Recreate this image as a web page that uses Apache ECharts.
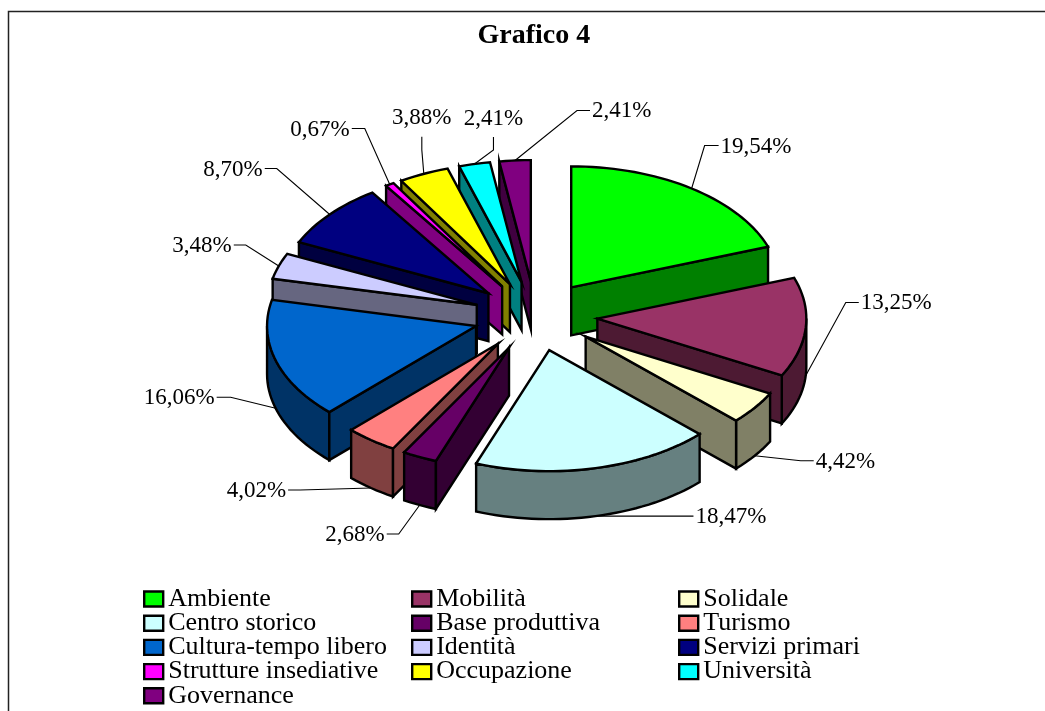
<!DOCTYPE html>
<html>
<head>
<meta charset="utf-8">
<title>Grafico 4</title>
<style>
  html, body { margin: 0; padding: 0; background: #fff; }
  #chart { width: 1045px; height: 711px; }
</style>
<script src="https://cdn.jsdelivr.net/npm/echarts@6/dist/echarts.min.js"></script>
</head>
<body>
<div id="chart"></div>
<script>
const categories = [
  "Ambiente", "Mobilità", "Solidale", "Centro storico", "Base produttiva",
  "Turismo", "Cultura-tempo libero", "Identità", "Servizi primari",
  "Strutture insediative", "Occupazione", "Università", "Governance",
];
const percentages = [19.54, 13.25, 4.42, 18.47, 2.68, 4.02, 16.06, 3.48, 8.7, 0.67, 3.88, 2.41, 2.41];
const topColors = [
  "#00ff00", "#993366", "#ffffcc", "#ccffff", "#660066", "#ff8080", "#0066cc",
  "#ccccff", "#000080", "#ff00ff", "#ffff00", "#00ffff", "#800080",
];
const sideColors = [
  "#008000", "#4d1a33", "#808066", "#668080", "#330033", "#804040", "#003366",
  "#666680", "#000040", "#800080", "#808000", "#008080", "#400040",
];
const legendColumns = [
  ["Ambiente", "Centro storico", "Cultura-tempo libero", "Strutture insediative", "Governance"],
  ["Mobilità", "Base produttiva", "Identità", "Occupazione"],
  ["Solidale", "Turismo", "Servizi primari", "Università"],
];

// leader line per slice, relative to the rim point: elbow dx, dy, then stub dx, dy
const leaders = [
  [13, -43, 14, 0], [40, -73, 13, 0], [46, 5, 13, 0], [86, 0, 12, 0], [-21, 29, -12, 0],
  [-71, 2, -12, 0], [-45, -11, -14, 0], [-33, -21, -12, 0], [-53, -46, -12, 0],
  [-25, -56, -13, 0], [-2, -24, 0, -13], [19, -14, 0, -13], [62, -50, 13, 0],
];

const SERIF = '"Liberation Serif", "Times New Roman", serif';
const PIE = { cx: 535.5, cy: 316, rx: 209, ry: 121, depth: 48, explodeX: 62, explodeY: 35 };
const DEG = Math.PI / 180;

const total = percentages.reduce((sum, v) => sum + v, 0);
const slices = [];
let running = 0;
percentages.forEach((value) => {
  const start = (running / total) * 360;
  running += value;
  slices.push({ start, end: (running / total) * 360, mid: start + ((value / total) * 360) / 2 });
});

function rimPoint(apex, angle) {
  return [apex[0] + PIE.rx * Math.sin(angle * DEG), apex[1] - PIE.ry * Math.cos(angle * DEG)];
}

function arcPoints(apex, from, to) {
  const points = [];
  const steps = Math.max(2, Math.ceil((to - from) / 2));
  for (let i = 0; i <= steps; i++) {
    points.push(rimPoint(apex, from + ((to - from) * i) / steps));
  }
  return points;
}

function down(point) {
  return [point[0], point[1] + PIE.depth];
}

function face(points, fill) {
  return {
    type: "polygon",
    shape: { points },
    style: { fill, stroke: "#000", lineWidth: 2.4, lineJoin: "miter" },
  };
}

function renderSlice(index) {
  const slice = slices[index];
  const apex = [
    PIE.cx + PIE.explodeX * Math.sin(slice.mid * DEG),
    PIE.cy - PIE.explodeY * Math.cos(slice.mid * DEG),
  ];
  const children = [];

  // outer wall, only the front half of the rim can be seen
  const wallFrom = Math.max(slice.start, 90);
  const wallTo = Math.min(slice.end, 270);
  if (wallTo > wallFrom) {
    const rim = arcPoints(apex, wallFrom, wallTo);
    children.push(face(rim.concat(rim.map(down).reverse()), sideColors[index]));
  }

  // cut walls
  if (Math.sin(slice.start * DEG) < 0) {
    const p = rimPoint(apex, slice.start);
    children.push(face([apex, p, down(p), down(apex)], sideColors[index]));
  }
  if (Math.sin(slice.end * DEG) > 0) {
    const p = rimPoint(apex, slice.end);
    children.push(face([apex, p, down(p), down(apex)], sideColors[index]));
  }

  children.push(face([apex].concat(arcPoints(apex, slice.start, slice.end)), topColors[index]));

  // leader line and percentage label
  let from = rimPoint(apex, slice.mid);
  if (Math.cos(slice.mid * DEG) < 0) from = down(from);
  const [ex, ey, sx, sy] = leaders[index];
  const elbow = [from[0] + ex, from[1] + ey];
  const tip = [elbow[0] + sx, elbow[1] + sy];
  children.push({
    type: "polyline",
    shape: { points: [from, elbow, tip] },
    style: { fill: "none", stroke: "#000", lineWidth: 1.1 },
  });
  const isVertical = sx === 0;
  children.push({
    type: "text",
    style: {
      text: percentages[index].toFixed(2).replace(".", ",") + "%",
      x: isVertical ? tip[0] : tip[0] + (sx > 0 ? 2 : -2),
      y: isVertical ? tip[1] - 7 : tip[1] + 1,
      fill: "#000",
      font: `23px ${SERIF}`,
      textAlign: isVertical ? "center" : sx > 0 ? "left" : "right",
      textVerticalAlign: isVertical ? "bottom" : "middle",
    },
  });
  return { type: "group", children };
}

// paint back to front
const paintRank = slices
  .map((slice, index) => ({ index, y: -Math.cos(slice.mid * DEG) }))
  .sort((a, b) => a.y - b.y)
  .map((item) => item.index);

const chart = echarts.init(document.getElementById("chart"), null, { renderer: "canvas" });
chart.setOption({
  animation: false,
  backgroundColor: "#fff",
  title: {
    text: "Grafico 4",
    left: 472.5,
    top: 17,
    textStyle: { fontFamily: SERIF, fontSize: 28, fontWeight: "bold", color: "#000" },
  },
  legend: legendColumns.map((names, i) => ({
    data: names,
    orient: "vertical",
    left: [143, 411, 678][i],
    top: 586,
    itemGap: -1.8,
    itemWidth: 19,
    itemHeight: 15,
    selectedMode: false,
    padding: 0,
    icon: "rect",
    itemStyle: { borderColor: "#000", borderWidth: 2.4 },
    textStyle: { fontFamily: SERIF, fontSize: 26, color: "#000" },
  })),
  graphic: [
    {
      type: "polyline",
      shape: { points: [[8.5, 711], [8.5, 11.5], [1045, 11.5]] },
      style: { fill: "none", stroke: "#222", lineWidth: 1.5 },
    },
  ],
  series: categories.map((name, index) => ({
    type: "custom",
    name,
    coordinateSystem: "none",
    z: 2 + paintRank.indexOf(index),
    itemStyle: { color: topColors[index] },
    data: [[percentages[index]]],
    renderItem: () => renderSlice(index),
  })),
});
window.addEventListener("resize", () => chart.resize());
</script>
</body>
</html>
